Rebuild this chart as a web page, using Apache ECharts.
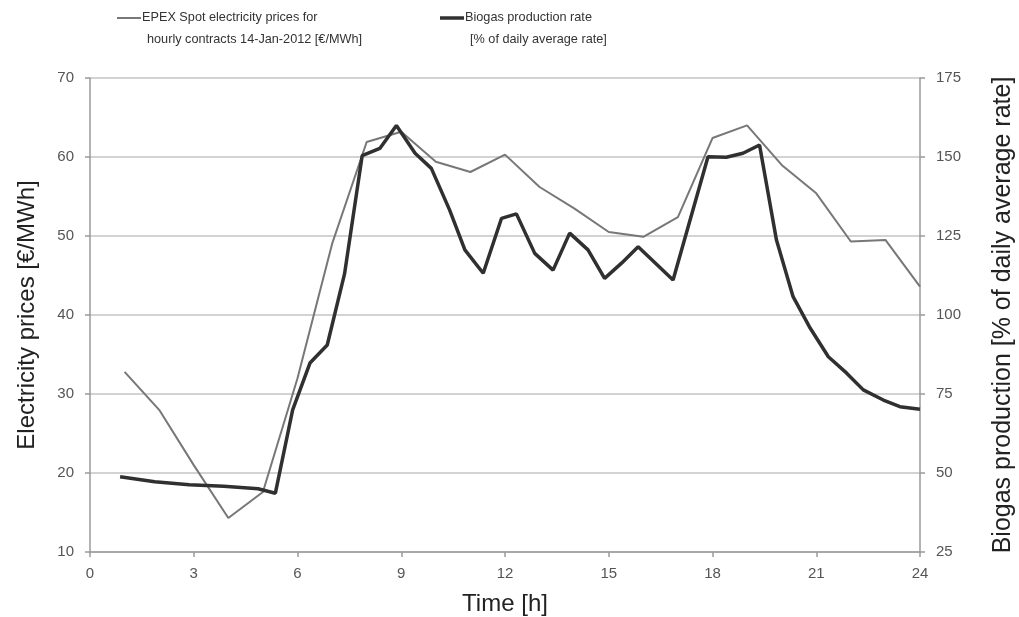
<!DOCTYPE html>
<html>
<head>
<meta charset="utf-8">
<script src="https://cdn.jsdelivr.net/npm/echarts@6/dist/echarts.min.js"></script>
<style>html,body{margin:0;padding:0;background:#fff}#c{width:1019px;height:617px}</style>
</head>
<body>
<div id="c"></div>
<script>
// Hourly EPEX spot price [€/MWh]
const priceHours = [1,2,3,4,5,6,7,8,9,10,11,12,13,14,15,16,17,18,19,20,21,22,23,24];
const priceValues = [32.8,28.0,21.0,14.3,17.6,32.0,49.0,61.9,63.2,59.4,58.1,60.3,56.2,53.5,50.5,49.9,52.4,62.4,64.0,59.0,55.4,49.3,49.5,43.6];
// Biogas production rate [% of daily average]
const biogasHours = [0.87,1.87,2.87,3.87,4.86,5.36,5.86,6.36,6.86,7.36,7.87,8.38,8.86,9.4,9.87,10.4,10.84,11.37,11.9,12.33,12.86,13.39,13.87,14.4,14.88,15.37,15.85,16.86,17.87,18.4,18.88,19.36,19.85,20.33,20.8,21.35,21.88,22.36,22.94,23.42,24];
const biogasValues = [48.8,47.2,46.3,45.8,45.0,43.6,70.0,84.8,90.5,113.0,150.4,152.7,160.0,151.2,146.4,133.2,120.6,113.2,130.6,132.0,119.5,114.2,125.9,120.6,111.6,116.4,121.6,111.1,150.1,149.9,151.2,153.8,123.7,105.8,96.3,86.8,81.6,76.3,73.1,71.0,70.2];
const xTicks = {min:0, max:24, interval:3};
const leftTicks = {min:10, max:70, interval:10};
const rightTicks = {min:25, max:175, interval:25};
const legendLines = [
  ['EPEX Spot electricity prices for', 'hourly contracts 14-Jan-2012 [€/MWh]'],
  ['Biogas production rate', '[% of daily average rate]']
];

const FONT = 'Liberation Sans, Arial, sans-serif';
const chart = echarts.init(document.getElementById('c'), null, {renderer:'canvas'});
const axisLine = {show:true, lineStyle:{color:'#9a9a9a', width:1.5}};
const tickStyle = {show:true, length:5, lineStyle:{color:'#9a9a9a', width:1.5}};
const labelStyle = {color:'#555', fontSize:15, fontFamily:FONT};
const nameStyle = {color:'#222', fontSize:24, fontFamily:FONT};
const LF = '12.7px ' + FONT;
chart.setOption({
  animation:false,
  backgroundColor:'#fff',
  grid:{left:90, right:99, top:78, bottom:65, containLabel:false, outerBoundsMode:'none'},
  xAxis:{type:'value', min:xTicks.min, max:xTicks.max, interval:xTicks.interval,
    name:'Time [h]', nameLocation:'middle', nameGap:40, nameTextStyle:nameStyle,
    axisLine:axisLine, axisTick:tickStyle, axisLabel:Object.assign({margin:14}, labelStyle), splitLine:{show:false}},
  yAxis:[
    {type:'value', position:'left', min:leftTicks.min, max:leftTicks.max, interval:leftTicks.interval,
     name:'Electricity prices [€/MWh]', nameLocation:'middle', nameGap:51, nameRotate:90, nameTextStyle:nameStyle,
     axisLine:axisLine, axisTick:tickStyle, axisLabel:Object.assign({margin:16}, labelStyle),
     splitLine:{show:true, lineStyle:{color:'#c4c4c4', width:1.5}}},
    {type:'value', position:'right', min:rightTicks.min, max:rightTicks.max, interval:rightTicks.interval,
     name:'Biogas production [% of daily average rate]', nameLocation:'middle', nameGap:71, nameRotate:90,
     nameTextStyle:Object.assign({}, nameStyle, {fontSize:25}),
     axisLine:axisLine, axisTick:tickStyle, axisLabel:Object.assign({margin:16}, labelStyle),
     splitLine:{show:false}}
  ],
  series:[
    {name:legendLines[0].join(' '), type:'line', yAxisIndex:0, showSymbol:false, symbol:'none',
     data:priceHours.map((h,i)=>[h, priceValues[i]]),
     lineStyle:{color:'#777', width:2}, z:2},
    {name:legendLines[1].join(' '), type:'line', yAxisIndex:1, showSymbol:false, symbol:'none',
     data:biogasHours.map((h,i)=>[h, biogasValues[i]]),
     lineStyle:{color:'#303030', width:3.5}, z:3}
  ],
  graphic:[
    {type:'line', shape:{x1:117, y1:18, x2:141, y2:18}, style:{stroke:'#777', lineWidth:2}},
    {type:'text', left:142, top:11, style:{text:legendLines[0][0], fill:'#333', font:LF}},
    {type:'text', left:147, top:33, style:{text:legendLines[0][1], fill:'#333', font:LF}},
    {type:'line', shape:{x1:440, y1:18, x2:464, y2:18}, style:{stroke:'#303030', lineWidth:3.5}},
    {type:'text', left:465, top:11, style:{text:legendLines[1][0], fill:'#333', font:LF}},
    {type:'text', left:470, top:33, style:{text:legendLines[1][1], fill:'#333', font:LF}}
  ]
});
</script>
</body>
</html>
